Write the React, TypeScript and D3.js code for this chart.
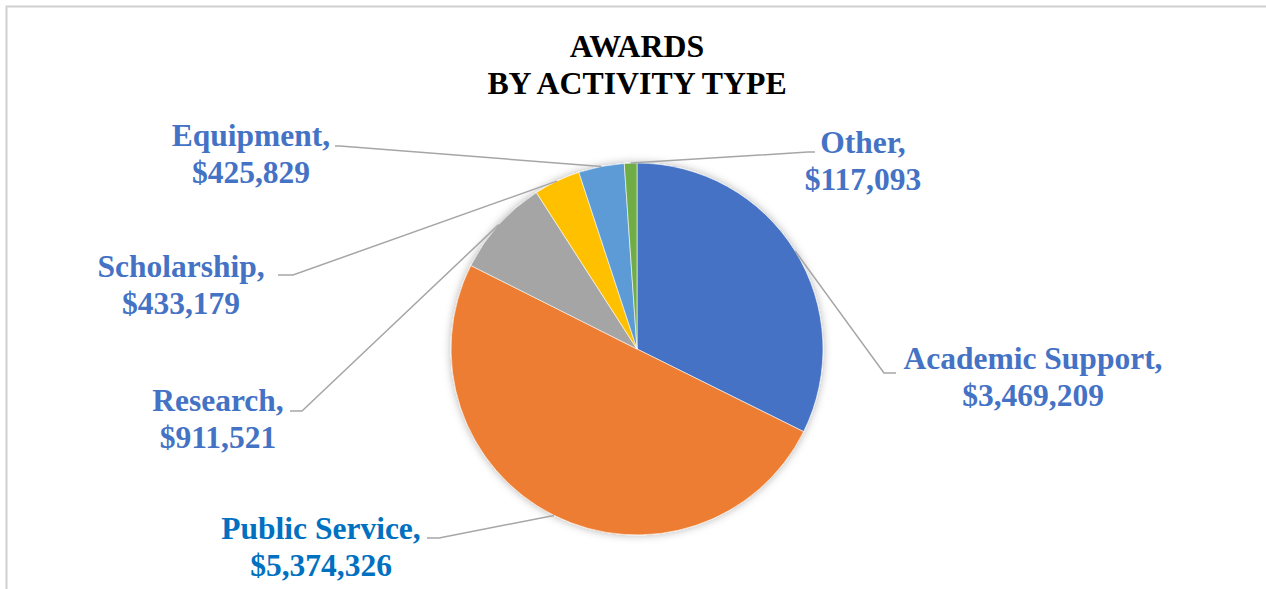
import React, { useEffect, useRef } from "react";
import * as d3 from "d3";

// Slice data, clockwise from 12 o'clock
const categories = [
  "Academic Support",
  "Public Service",
  "Research",
  "Scholarship",
  "Equipment",
  "Other",
];
const amounts = [3469209, 5374326, 911521, 433179, 425829, 117093];
const sliceColors = ["#4472C4", "#ED7D31", "#A5A5A5", "#FFC000", "#5B9BD5", "#70AD47"];
const labelColors = ["#4472C4", "#0070C0", "#4472C4", "#4472C4", "#4472C4", "#4472C4"];
const titleLines = ["AWARDS", "BY ACTIVITY TYPE"];

// Label placement (layout only): label center x, first baseline, leader elbow and end
const labelLayout = [
  { x: 1033, y: 369, elbowX: 884, elbowY: 373, endX: 896 },
  { x: 321, y: 539, elbowX: 439, elbowY: 538, endX: 427 },
  { x: 218, y: 411, elbowX: 302, elbowY: 411, endX: 290 },
  { x: 181, y: 277, elbowX: 293, elbowY: 275, endX: 278 },
  { x: 251, y: 146, elbowX: 340, elbowY: 146, endX: 335 },
  { x: 863, y: 153, elbowX: 808, elbowY: 152, endX: 815 },
];

const WIDTH = 1266;
const HEIGHT = 589;
const FONT = '"Liberation Serif", "DejaVu Serif", serif';

export default function App() {
  const svgRef = useRef<SVGSVGElement>(null);

  useEffect(() => {
    if (!svgRef.current) return;
    const svg = d3.select(svgRef.current);
    svg.selectAll("*").remove();

    const cx = 637;
    const cy = 349;
    const radius = 186;

    // soft shadow like the office chart effect
    const defs = svg.append("defs");
    const filter = defs.append("filter").attr("id", "pieShadow").attr("x", "-20%").attr("y", "-20%").attr("width", "140%").attr("height", "140%");
    filter
      .append("feDropShadow")
      .attr("dx", 0)
      .attr("dy", 0)
      .attr("stdDeviation", 4)
      .attr("flood-color", "#000")
      .attr("flood-opacity", 0.3);

    // chart frame (only top and left edges fall inside the picture)
    svg
      .append("path")
      .attr("d", `M6.5,${HEIGHT + 10} L6.5,6.5 L${WIDTH + 10},6.5`)
      .attr("fill", "none")
      .attr("stroke", "#D0D0D0")
      .attr("stroke-width", 2);

    // title
    const title = svg
      .append("text")
      .attr("text-anchor", "middle")
      .style("font-family", FONT)
      .style("font-weight", "bold")
      .style("font-size", "31.8px")
      .attr("fill", "#000");
    titleLines.forEach((t, i) => {
      title
        .append("tspan")
        .attr("x", cx)
        .attr("y", 57 + i * 37)
        .text(t);
    });

    const rows = categories.map((c, i) => ({ name: c, value: amounts[i], i }));
    const pie = d3
      .pie<(typeof rows)[number]>()
      .sort(null)
      .value((d) => d.value);
    const arcs = pie(rows);
    const arc = d3.arc<d3.PieArcDatum<(typeof rows)[number]>>().innerRadius(0).outerRadius(radius);
    const edgeArc = d3.arc<d3.PieArcDatum<(typeof rows)[number]>>().innerRadius(radius).outerRadius(radius);

    const g = svg.append("g").attr("transform", `translate(${cx},${cy})`);
    g.append("g")
      .attr("filter", "url(#pieShadow)")
      .selectAll("path")
      .data(arcs)
      .enter()
      .append("path")
      .attr("d", arc)
      .attr("fill", (d) => sliceColors[d.data.i])
      .attr("stroke", "#fff")
      .attr("stroke-width", 0.6);

    // leader lines
    svg
      .append("g")
      .selectAll("path")
      .data(arcs)
      .enter()
      .append("path")
      .attr("d", (d) => {
        const [sx, sy] = edgeArc.centroid(d);
        const l = labelLayout[d.data.i];
        return `M${cx + sx},${cy + sy} L${l.elbowX},${l.elbowY} L${l.endX},${l.elbowY}`;
      })
      .attr("fill", "none")
      .attr("stroke", "#A6A6A6")
      .attr("stroke-width", 1.5);

    // data labels
    const fmt = d3.format("$,");
    const labels = svg
      .append("g")
      .selectAll("text")
      .data(arcs)
      .enter()
      .append("text")
      .attr("text-anchor", "middle")
      .style("font-family", FONT)
      .style("font-weight", "bold")
      .style("font-size", "31.5px")
      .attr("fill", (d) => labelColors[d.data.i]);
    labels
      .append("tspan")
      .attr("x", (d) => labelLayout[d.data.i].x)
      .attr("y", (d) => labelLayout[d.data.i].y)
      .text((d) => `${d.data.name},`);
    labels
      .append("tspan")
      .attr("x", (d) => labelLayout[d.data.i].x)
      .attr("y", (d) => labelLayout[d.data.i].y + 36.5)
      .text((d) => fmt(d.data.value));
  }, []);

  return (
    <svg
      ref={svgRef}
      width={WIDTH}
      height={HEIGHT}
      style={{ position: "absolute", left: 0, top: 0, background: "#fff" }}
    />
  );
}
